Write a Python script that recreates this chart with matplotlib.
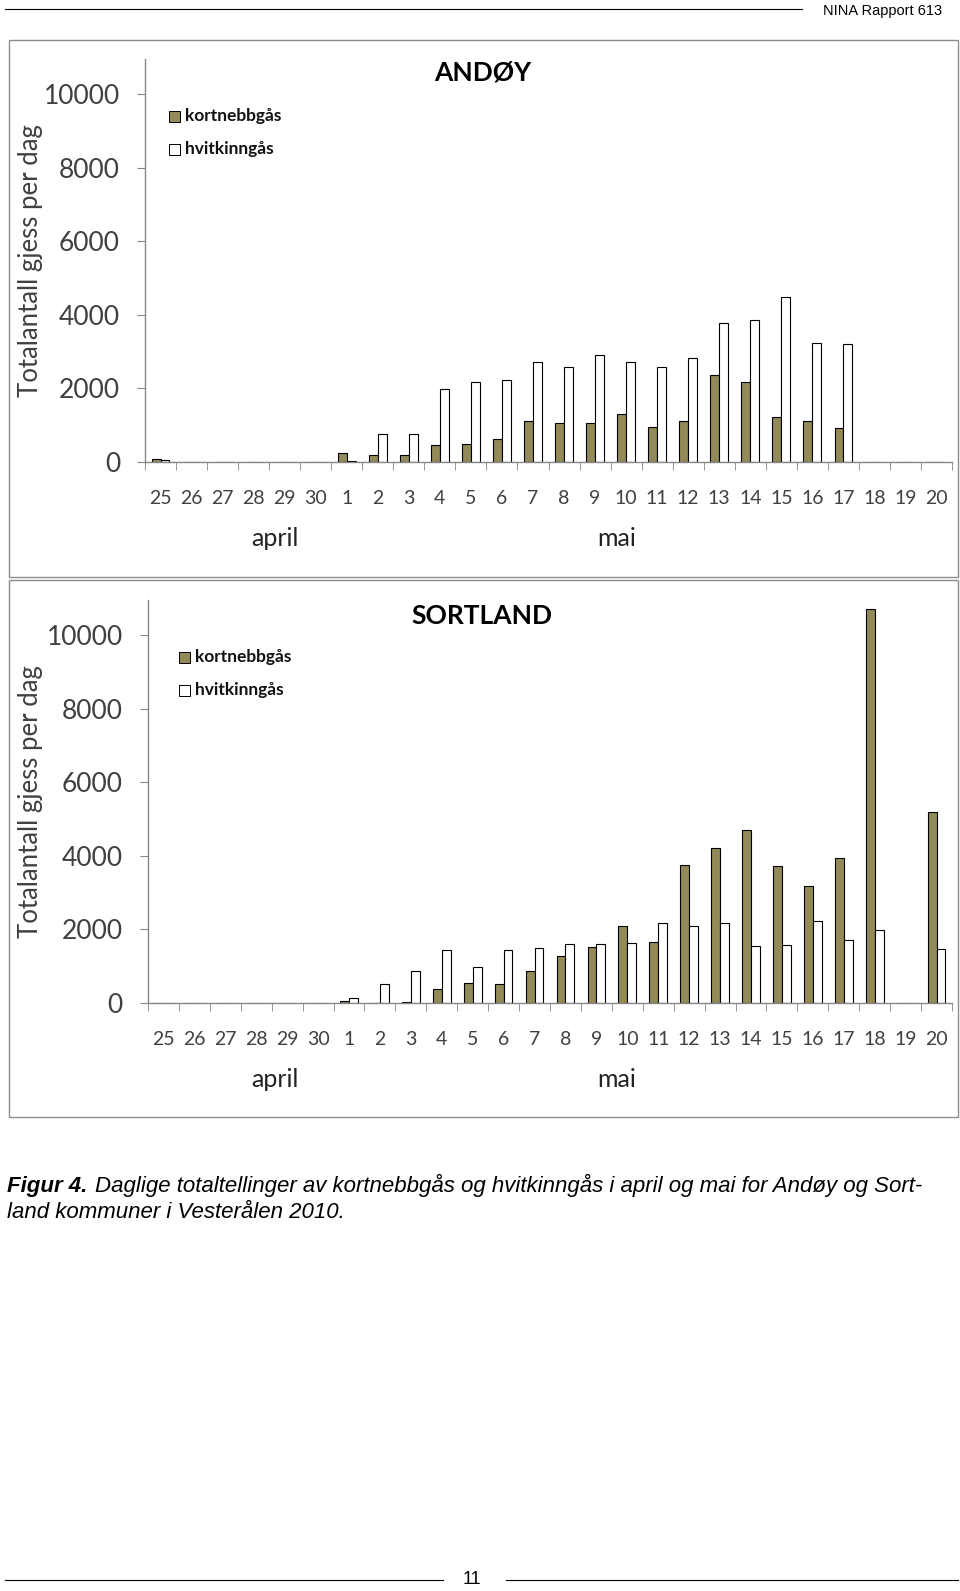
import matplotlib.pyplot as plt
from matplotlib.patches import Rectangle
from matplotlib.lines import Line2D
import numpy as np

days = ['25', '26', '27', '28', '29', '30'] + [str(d) for d in range(1, 21)]

andoy_kort = [90, 0, 0, 0, 0, 0, 236, 181, 181, 454, 481, 617, 1125, 1062, 1062,
              1316, 953, 1125, 2359, 2187, 1216, 1125, 917, 0, 0, 0]
andoy_hvit = [55, 0, 0, 0, 0, 0, 27, 771, 771, 1978, 2187, 2241, 2704, 2568, 2913,
              2704, 2568, 2831, 3775, 3857, 4474, 3240, 3203, 0, 0, 0]

sort_kort = [0, 0, 0, 0, 0, 0, 55, 0, 27, 390, 540, 510, 865, 1275, 1512,
             2095, 1658, 3743, 4199, 4699, 3716, 3169, 3934, 10692, 0, 5191]
sort_hvit = [0, 0, 0, 0, 0, 0, 148, 508, 866, 1430, 983, 1430, 1485, 1603, 1603,
             1621, 2168, 2095, 2168, 1539, 1576, 2240, 1721, 1985, 0, 1457]

W, H = 960, 1591
OLIVE = '#938a58'
GRAY = '#868686'
TXT = '#404040'
FONT = 'Lato'


def rect(x0, y0, x1, y1):
    return [x0 / W, 1 - y1 / H, (x1 - x0) / W, (y1 - y0) / H]


fig = plt.figure(figsize=(W / 100, H / 100), dpi=100)

# header
fig.add_artist(Line2D([5 / W, 802 / W], [1 - 9 / H, 1 - 9 / H], color='black', lw=0.8))
fig.text(942 / W, 1 - 11 / H, 'NINA Rapport 613', ha='right', va='center',
         fontsize=10.5, family='Liberation Sans')


def panel(box, axbox, kort, hvit, title, title_xy, legend_x, legend_y):
    fig.add_artist(Rectangle((box[0] / W, 1 - box[3] / H), (box[2] - box[0]) / W,
                             (box[3] - box[1]) / H, transform=fig.transFigure,
                             fill=False, edgecolor='#8c8c8c', lw=1.0))
    ax = fig.add_axes(rect(*axbox))
    x = np.arange(len(days))
    w = 0.285
    ax.bar(x - w / 2, kort, w, color=OLIVE, edgecolor='black', lw=0.8, label='kortnebbgås')
    ax.bar(x + w / 2, hvit, w, color='white', edgecolor='black', lw=0.8, label='hvitkinngås')
    ax.set_xlim(-0.5, len(days) - 0.5)
    ax.set_ylim(0, 10950)
    for s in ['top', 'right']:
        ax.spines[s].set_visible(False)
    for s in ['left', 'bottom']:
        ax.spines[s].set_color(GRAY)
        ax.spines[s].set_linewidth(1.0)
    ax.set_yticks(range(0, 10001, 2000))
    ax.set_yticklabels([str(v) for v in range(0, 10001, 2000)], family=FONT,
                       fontsize=19, color=TXT)
    ax.tick_params(axis='y', length=6, color=GRAY, pad=12)
    ax.set_xticks(x)
    ax.set_xticklabels(days, family=FONT, fontsize=14, color=TXT)
    ax.set_xticks(np.arange(-0.5, len(days), 1), minor=True)
    ax.tick_params(axis='x', which='major', length=0, pad=20)
    ax.tick_params(axis='x', which='minor', length=6, color=GRAY)
    ax.set_facecolor('none')

    def dx(p):
        return (p - axbox[0]) / (axbox[2] - axbox[0]) * len(days) - 0.5

    ax.text(dx(275), -0.19, 'april', transform=ax.get_xaxis_transform(), ha='center',
            va='center', family=FONT, fontsize=18, color='#222222')
    ax.text(dx(617), -0.19, 'mai', transform=ax.get_xaxis_transform(), ha='center',
            va='center', family=FONT, fontsize=18, color='#222222')
    fig.text(title_xy[0] / W, 1 - title_xy[1] / H, title, ha='center', va='center',
             family=FONT, fontweight='bold', fontsize=19, color='black')
    fig.text(31 / W, 1 - ((axbox[1] + axbox[3]) / 2) / H, 'Totalantall gjess per dag',
             rotation=90, ha='center', va='center', family=FONT, fontsize=18.5, color=TXT)
    # legend
    for i, (c, lab) in enumerate([(OLIVE, 'kortnebbgås'), (None, 'hvitkinngås')]):
        yy = legend_y + i * 33
        fig.add_artist(Rectangle((legend_x / W, 1 - (yy + 6) / H), 11 / W, 11 / H,
                                 transform=fig.transFigure,
                                 facecolor=c if c else 'white', edgecolor='black', lw=0.7))
        fig.text((legend_x + 16) / W, 1 - yy / H, lab, ha='left', va='center',
                 family=FONT, fontweight='bold', fontsize=12.5, color='#111111')
    return ax


panel((9, 40, 958, 577), (145, 59, 952, 462), andoy_kort, andoy_hvit, 'ANDØY',
      (483, 73), 169, 116)
panel((9, 580, 958, 1117), (148, 600, 952, 1003), sort_kort, sort_hvit, 'SORTLAND',
      (482, 616), 179, 657)

# caption
cap_kw = dict(ha='left', va='baseline', fontsize=16, family='Liberation Sans', style='italic')
fig.text(7 / W, 1 - 1192 / H, 'Figur 4.', fontweight='bold', **cap_kw)
fig.text(95 / W, 1 - 1192 / H,
         'Daglige totaltellinger av kortnebbgås og hvitkinngås i april og mai for Andøy og Sort-',
         **cap_kw)
fig.text(7 / W, 1 - 1218 / H, 'land kommuner i Vesterålen 2010.', **cap_kw)

# footer
fig.add_artist(Line2D([5 / W, 443 / W], [1 - 1580 / H, 1 - 1580 / H], color='black', lw=0.8))
fig.add_artist(Line2D([506 / W, 958 / W], [1 - 1580 / H, 1 - 1580 / H], color='black', lw=0.8))
fig.text(472 / W, 1 - 1579 / H, '11', ha='center', va='center', fontsize=13,
         family='Liberation Sans')

fig.savefig('out.png', dpi=100)
